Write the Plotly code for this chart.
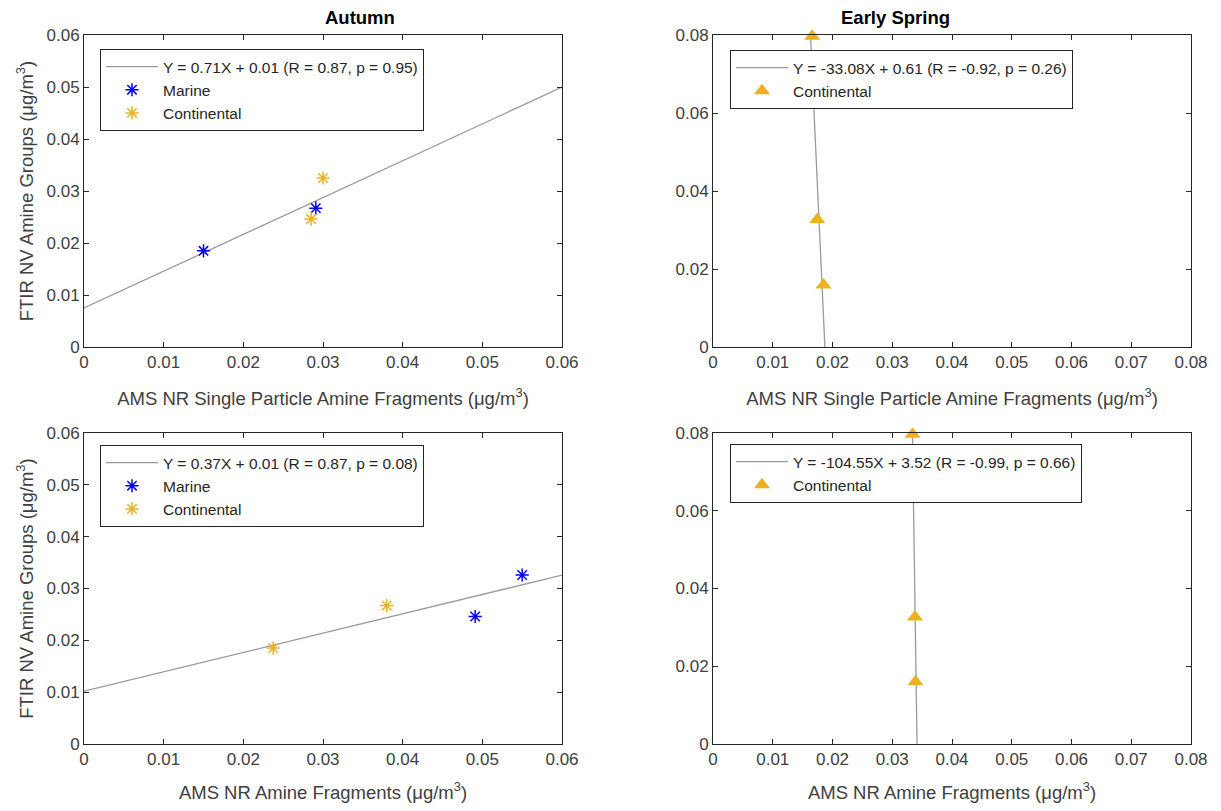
import plotly.graph_objects as go

# ---------------- data ----------------
# Autumn, single particle
aut_sp_marine_x = [0.0150, 0.0291]
aut_sp_marine_y = [0.0185, 0.0267]
aut_sp_cont_x = [0.0300, 0.0285]
aut_sp_cont_y = [0.0325, 0.0246]
aut_sp_fit = [0.708, 0.0075]  # slope, intercept
aut_sp_label = "Y = 0.71X + 0.01 (R = 0.87, p = 0.95)"

# Autumn, all NR
aut_nr_marine_x = [0.0491, 0.0550]
aut_nr_marine_y = [0.0246, 0.0326]
aut_nr_cont_x = [0.02375, 0.0380]
aut_nr_cont_y = [0.0185, 0.0267]
aut_nr_fit = [0.373, 0.0102]
aut_nr_label = "Y = 0.37X + 0.01 (R = 0.87, p = 0.08)"

# Early spring, single particle
spr_sp_cont_x = [0.0166, 0.01745, 0.0185]
spr_sp_cont_y = [0.0797, 0.0327, 0.0159]
spr_sp_fit = [-33.08, 0.6195]
spr_sp_label = "Y = -33.08X + 0.61 (R = -0.92, p = 0.26)"

# Early spring, all NR
spr_nr_cont_x = [0.0334, 0.0338, 0.0339]
spr_nr_cont_y = [0.0797, 0.0327, 0.0160]
spr_nr_fit = [-104.55, 3.57]
spr_nr_label = "Y = -104.55X + 3.52 (R = -0.99, p = 0.66)"

autumn_ticks = [0, 0.01, 0.02, 0.03, 0.04, 0.05, 0.06]
spring_xticks = [0, 0.01, 0.02, 0.03, 0.04, 0.05, 0.06, 0.07, 0.08]
spring_yticks = [0, 0.02, 0.04, 0.06, 0.08]

# ---------------- style ----------------
BLUE = "#0000FF"
ORANGE = "#EDB120"
GRAY = "#9a9a9a"
AXC = "#262626"
TXT = "#404040"
FONT = "Liberation Sans, Arial, sans-serif"

OFF = 8                # page body margin
W, H = 1205, 795       # figure size inside the 1221x811 window
def px_x(p):
    return (p - OFF) / W
def px_y(p):
    return 1 - (p - OFF) / H

fig = go.Figure()

def fit_line_autumn(fit, xmax, legend, label, xa, ya):
    xs = [0, xmax]
    ys = [fit[0] * x + fit[1] for x in xs]
    fig.add_trace(go.Scatter(x=xs, y=ys, mode="lines", line=dict(color=GRAY, width=1.3),
                             name=label, legend=legend, xaxis=xa, yaxis=ya))

def fit_line_spring(fit, ymin, ymax, legend, label, xa, ya):
    ys = [ymin, ymax]
    xs = [(y - fit[1]) / fit[0] for y in ys]
    fig.add_trace(go.Scatter(x=xs, y=ys, mode="lines", line=dict(color=GRAY, width=1.3),
                             name=label, legend=legend, xaxis=xa, yaxis=ya))

def stars(x, y, color, name, legend, xa, ya):
    fig.add_trace(go.Scatter(x=x, y=y, mode="markers", name=name, legend=legend,
                             marker=dict(symbol="asterisk-open", size=11, color=color,
                                         line=dict(color=color, width=1.5)),
                             cliponaxis=False, xaxis=xa, yaxis=ya))

def tris(x, y, name, legend, xa, ya):
    fig.add_trace(go.Scatter(x=x, y=y, mode="markers", name=name, legend=legend,
                             marker=dict(symbol="triangle-up", size=14, color=ORANGE,
                                         line=dict(width=0)),
                             cliponaxis=False, xaxis=xa, yaxis=ya))

# top-left
fit_line_autumn(aut_sp_fit, 0.06, "legend", aut_sp_label, "x", "y")
stars(aut_sp_marine_x, aut_sp_marine_y, BLUE, "Marine", "legend", "x", "y")
stars(aut_sp_cont_x, aut_sp_cont_y, ORANGE, "Continental", "legend", "x", "y")
# top-right
fit_line_spring(spr_sp_fit, -0.002, 0.0795, "legend2", spr_sp_label, "x2", "y2")
tris(spr_sp_cont_x, spr_sp_cont_y, "Continental", "legend2", "x2", "y2")
# bottom-left
fit_line_autumn(aut_nr_fit, 0.06, "legend3", aut_nr_label, "x3", "y3")
stars(aut_nr_marine_x, aut_nr_marine_y, BLUE, "Marine", "legend3", "x3", "y3")
stars(aut_nr_cont_x, aut_nr_cont_y, ORANGE, "Continental", "legend3", "x3", "y3")
# bottom-right
fit_line_spring(spr_nr_fit, -0.002, 0.0795, "legend4", spr_nr_label, "x4", "y4")
tris(spr_nr_cont_x, spr_nr_cont_y, "Continental", "legend4", "x4", "y4")

left_dom = [px_x(84), px_x(562)]
right_dom = [px_x(713), px_x(1191)]
top_dom = [px_y(347), px_y(35)]
bot_dom = [px_y(744), px_y(433)]

unit = "(μg/m<sup>3</sup>)"

def axis(dom, rng, ticks, anchor, title=None, standoff=20):
    d = dict(domain=dom, range=rng, tickvals=ticks, ticktext=[("%g" % t) for t in ticks],
             showline=True, linecolor=AXC, linewidth=1, mirror="ticks",
             ticks="inside", ticklen=5, tickcolor=AXC, showgrid=False, zeroline=False,
             automargin=False,
             tickfont=dict(size=17, color=TXT, family=FONT), anchor=anchor)
    if title:
        d["title"] = dict(text=title, font=dict(size=18.5, color=TXT, family=FONT), standoff=standoff)
    return d

ylab = "FTIR NV Amine Groups " + unit
fig.update_layout(
    xaxis=axis(left_dom, [0, 0.06], autumn_ticks, "y", "AMS NR Single Particle Amine Fragments " + unit),
    yaxis=axis(top_dom, [0, 0.06], autumn_ticks, "x", ylab, 8),
    xaxis2=axis(right_dom, [0, 0.08], spring_xticks, "y2", "AMS NR Single Particle Amine Fragments " + unit),
    yaxis2=axis(top_dom, [0, 0.08], spring_yticks, "x2"),
    xaxis3=axis(left_dom, [0, 0.06], autumn_ticks, "y3", "AMS NR Amine Fragments " + unit),
    yaxis3=axis(bot_dom, [0, 0.06], autumn_ticks, "x3", ylab, 8),
    xaxis4=axis(right_dom, [0, 0.08], spring_xticks, "y4", "AMS NR Amine Fragments " + unit),
    yaxis4=axis(bot_dom, [0, 0.08], spring_yticks, "x4"),
)

def leg(x0, y0):
    return dict(x=px_x(x0), y=px_y(y0), xanchor="left", yanchor="top",
                bgcolor="white", bordercolor=AXC, borderwidth=1, itemwidth=52,
                font=dict(size=15.5, color=AXC, family=FONT), tracegroupgap=0)

fig.update_layout(
    legend=leg(100, 49), legend2=leg(730, 50), legend3=leg(100, 445), legend4=leg(730, 444),
)

fig.add_annotation(text="<b>Autumn</b>", x=(left_dom[0] + left_dom[1]) / 2, y=px_y(18),
                   xref="paper", yref="paper", showarrow=False, yanchor="middle",
                   font=dict(size=18.5, color="black", family=FONT))
fig.add_annotation(text="<b>Early Spring</b>", x=(right_dom[0] + right_dom[1]) / 2, y=px_y(18),
                   xref="paper", yref="paper", showarrow=False, yanchor="middle",
                   font=dict(size=18.5, color="black", family=FONT))

fig.update_layout(width=W, height=H, margin=dict(l=0, r=0, t=0, b=0, autoexpand=False),
                  paper_bgcolor="white", plot_bgcolor="white",
                  font=dict(family=FONT, color=AXC))

fig.write_html("out.html")
